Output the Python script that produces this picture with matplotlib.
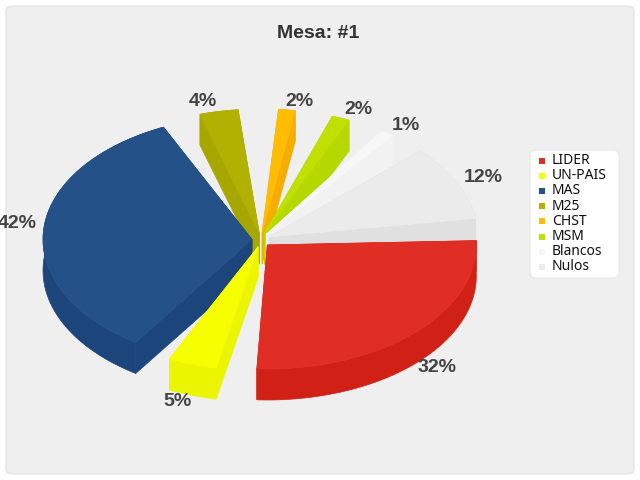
import numpy as np
import matplotlib
matplotlib.use('Agg')
import matplotlib.pyplot as plt
from matplotlib.patches import FancyBboxPatch, Polygon, Rectangle

#share of the pie each slice appears to take, the printed labels are the chart's own
parties = ['LIDER', 'UN-PAIS', 'MAS', 'M25', 'CHST', 'MSM', 'Blancos', 'Nulos']
shares = [32.9, 4.7, 42, 3.7, 1.6, 1.7, 1.25, 12.2]
pct_labels = ['32%', '5%', '42%', '4%', '2%', '2%', '1%', '12%']

top_colors = ['#E12E24', '#F5FF00', '#245187', '#B2B000', '#FFBC00', '#BFE000', '#F7F7F7', '#EBEBEB']
side_colors = ['#D12116', '#EBF500', '#1B457B', '#A8A600', '#F5AE00', '#B5D800', '#F2F2F2', '#E0E0E0']
label_xy = [(437, 368), (177, 401), (17, 224), (203, 102), (299, 101), (358, 109), (406, 125), (483, 177)]

cx, cy = 261, 240
rx, ry = 209, 124
depth = 31
gaps = [8.7, 8.7, 8.6, 10.3, 9.9, 9.7, 9.0, 6.6]
start = -2.0

fig = plt.figure(figsize=(6.4, 4.8), dpi=100, facecolor='white')
ax = fig.add_axes([0, 0, 1, 1])
ax.set_xlim(0, 640)
ax.set_ylim(480, 0)
ax.axis('off')

ax.add_patch(FancyBboxPatch((6, 6), 628, 468, boxstyle='round,pad=0,rounding_size=6',
                            fc='#EFEFEF', ec='#E4E4E4', lw=1, zorder=0))

# work out slices, gaps between them eat into the sweep
total = sum(shares)
usable = 360.0 - sum(gaps)
slices = []
a = start
for i, v in enumerate(shares):
    sweep = usable * v / total
    slices.append((i, a, a + sweep))
    a += sweep + gaps[i]

# back slices first
slices.sort(key=lambda s: np.sin(np.radians((s[1] + s[2]) / 2)))

for z, (i, a0, a1) in enumerate(slices):
    mid = np.radians((a0 + a1) / 2)
    ax0 = cx + 9 * np.cos(mid)
    ay0 = cy + 7 * np.sin(mid)
    t = np.radians(np.linspace(a0, a1, 80))
    xs = ax0 + rx * np.cos(t)
    ys = ay0 + ry * np.sin(t)
    top = np.column_stack([np.r_[ax0, xs], np.r_[ay0, ys]])
    low = top + [0, depth]
    arc_top = top[1:]
    arc_low = low[1:]
    # outer wall and the two cut faces, all pushed down by depth
    walls = [np.vstack([arc_top, arc_low[::-1]]),
             [top[0], top[1], low[1], low[0]],
             [top[0], top[-1], low[-1], low[0]]]
    for w in walls:
        ax.add_patch(Polygon(w, closed=True, fc=side_colors[i], ec=side_colors[i],
                             lw=0.5, zorder=2 + z * 2))
    ax.add_patch(Polygon(top, closed=True, fc=top_colors[i], ec=top_colors[i], lw=0.5, zorder=3 + z * 2))

for lab, (x, y) in zip(pct_labels, label_xy):
    ax.text(x, y, lab, ha='center', va='center', fontsize=14, fontweight='bold',
            family='Liberation Sans', color='#444444', zorder=40)

ax.text(318, 34, 'Mesa: #1', ha='center', va='center', fontsize=14, fontweight='bold',
        family='Liberation Sans', color='#333333', zorder=40)

# legend
ax.add_patch(FancyBboxPatch((530, 150), 89, 128, boxstyle='round,pad=0,rounding_size=6',
                            fc='white', ec='#E8E8E8', lw=0.8, zorder=30))
for i, name in enumerate(parties):
    y = 160.5 + i * 15.2
    ax.add_patch(Rectangle((539, y - 3), 6, 6, fc=top_colors[i], ec='none', zorder=31))
    ax.text(552, y, name, ha='left', va='center', fontsize=10, family='Noto Sans',
            color='#111111', zorder=31)

fig.savefig('out.png', dpi=100)
